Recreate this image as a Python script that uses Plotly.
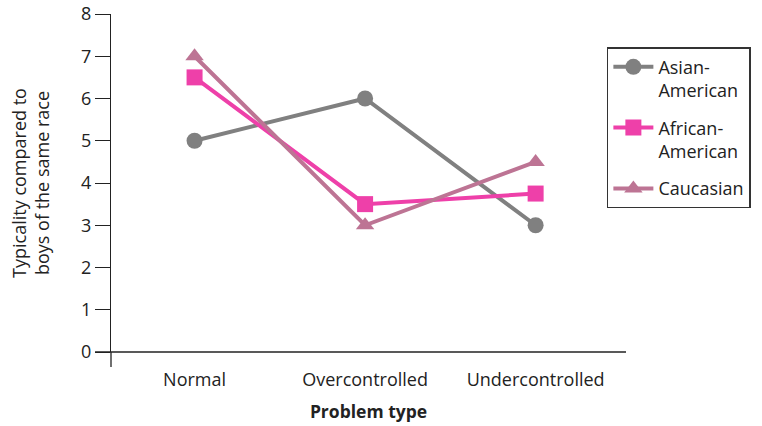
import plotly.graph_objects as go

categories = ["Normal", "Overcontrolled", "Undercontrolled"]
series_names = ["Asian-<br>American", "African-<br>American", "Caucasian"]
asian = [5, 6, 3]
african = [6.5, 3.5, 3.75]
caucasian = [7, 3, 4.5]
y_ticks = [0, 1, 2, 3, 4, 5, 6, 7, 8]

colors = ["#808080", "#EE40A9", "#BD7494"]
symbols = ["circle", "square", "triangle-up"]
FONT = "'Open Sans', Lato, sans-serif"

xpos = list(range(len(categories)))
fig = go.Figure()
for i, (name, vals, c, s) in enumerate(zip(series_names, [asian, african, caucasian], colors, symbols)):
    fig.add_trace(go.Scatter(
        x=xpos, y=vals, name=name, mode="lines+markers", legendgroup=f"g{i}",
        line=dict(color=c, width=4),
        marker=dict(color=c, symbol=s, size=16),
    ))

W, H = 762, 426
L, T = 111, 14
PW, PH = 516, 338
xr = [-0.49, 2.53]
fig.update_layout(
    width=W, height=H,
    margin=dict(l=L, r=W - L - PW, t=T, b=H - T - PH),
    plot_bgcolor="white", paper_bgcolor="white",
    font=dict(family=FONT, size=16, color="#222"),
    showlegend=True,
    legend=dict(
        x=0.961, y=0.902, xanchor="left", yanchor="top",
        bordercolor="#333", borderwidth=1.5,
        font=dict(size=18, family=FONT, color="#222"),
        valign="top", tracegroupgap=11, itemwidth=40,
    ),
    xaxis=dict(
        range=xr, tickvals=xpos, ticktext=categories, ticks="",
        showline=False, showgrid=False, zeroline=False, automargin=False,
        tickfont=dict(size=18), ticklabelstandoff=15,
        title=dict(text="<b>Problem type</b>", font=dict(size=17.5), standoff=15),
    ),
    xaxis2=dict(
        range=xr, overlaying="x", anchor="y", side="bottom",
        tickvals=[1, 2, 2.53], ticks="outside", ticklen=15, tickwidth=1.3,
        tickcolor="#222", showticklabels=False, showgrid=False, zeroline=False,
        showline=False, automargin=False,
    ),
    yaxis=dict(
        range=[0, 8], tickvals=y_ticks, ticks="outside", ticklen=15, tickwidth=1.3,
        tickcolor="#222", showline=True, linecolor="#222", linewidth=1.3,
        showgrid=False, zeroline=False, tickfont=dict(size=18), automargin=False,
        ticklabeloverflow="allow",
        title=dict(text="Typicality compared to<br>boys of the same race", font=dict(size=18), standoff=26),
    ),
)
# axis line decorations (extend past the corner)
fig.add_shape(type="line", xref="paper", yref="paper", x0=-16/PW, x1=1, y0=0, y1=0,
              line=dict(color="#222", width=1.3))
fig.add_shape(type="line", xref="paper", yref="paper", x0=0, x1=0, y0=0, y1=-15/PH,
              line=dict(color="#222", width=1.3))
fig.write_html("out.html", config={"displayModeBar": False},
               post_script="document.body.style.margin='0';")
